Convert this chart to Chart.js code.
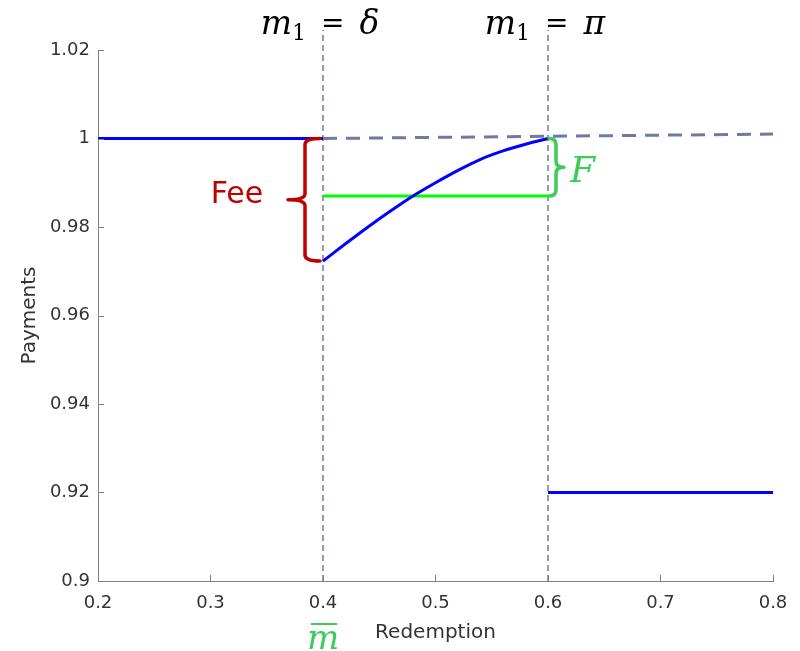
<!DOCTYPE html>
<html>
<head>
<meta charset="utf-8">
<script src="https://cdn.jsdelivr.net/npm/chart.js@4"></script>
<style>
  html, body { margin: 0; padding: 0; background: #fff; }
  #wrap { width: 800px; height: 651px; }
</style>
</head>
<body>
<div id="wrap"><canvas id="payChart" width="800" height="651"></canvas></div>
<script>
// Payment schedule
const flatX = [0.2, 0.4];
const flatY = [1.0, 1.0];
const feeX = [0.40, 0.42, 0.44, 0.46, 0.48, 0.50, 0.52, 0.54, 0.56, 0.58, 0.60];
const feeY = [0.9723, 0.9762, 0.9800, 0.9836, 0.9870, 0.9900, 0.9928, 0.9953, 0.9972, 0.9987, 1.0000];
const lowX = [0.6, 0.8];
const lowY = [0.92, 0.92];
const fundX = [0.4, 0.6];
const fundY = [0.987, 0.987];
const parX = [0.4, 0.8];
const parY = [1.0, 1.001];
const thresholds = [0.4, 0.6];
const thresholdLabels = ['δ', 'π'];
const vlineTop = 1.0245;
const xTicks = [0.2, 0.3, 0.4, 0.5, 0.6, 0.7, 0.8];
const yTicks = [0.9, 0.92, 0.94, 0.96, 0.98, 1, 1.02];

const pts = (xs, ys) => xs.map((x, i) => ({ x: x, y: ys[i] }));

const axisColor = '#808080';
const textColor = '#333333';
const dashColor = '#6f7aa0';
const feeRed = '#c00000';
const fGreen = '#3dcc5a';
const sans = '"DejaVu Sans"';

function line(data, color, width, dash, order) {
  return {
    data: data,
    showLine: true,
    borderColor: color,
    borderWidth: width,
    borderDash: dash || [],
    pointRadius: 0,
    fill: false,
    clip: false,
    order: order
  };
}

// inward ticks, braces and math labels
const decor = {
  id: 'decor',
  afterDatasetsDraw(chart) {
    const ctx = chart.ctx;
    const xs = chart.scales.x, ys = chart.scales.y;
    const area = chart.chartArea;

    ctx.save();
    ctx.strokeStyle = axisColor;
    ctx.lineWidth = 1;
    xTicks.forEach(v => {
      const p = Math.round(xs.getPixelForValue(v)) + 0.5;
      ctx.beginPath(); ctx.moveTo(p, area.bottom); ctx.lineTo(p, area.bottom - 6); ctx.stroke();
    });
    yTicks.forEach(v => {
      const p = Math.round(ys.getPixelForValue(v)) + 0.5;
      ctx.beginPath(); ctx.moveTo(area.left, p); ctx.lineTo(area.left + 6, p); ctx.stroke();
    });

    function brace(x0, xEnd, xTip, yTop, yBot, color) {
      const yMid = (yTop + yBot) / 2;
      const r = 6;
      ctx.beginPath();
      ctx.moveTo(xEnd, yTop);
      ctx.quadraticCurveTo(x0, yTop, x0, yTop + r);
      ctx.lineTo(x0, yMid - r);
      ctx.quadraticCurveTo(x0, yMid, xTip, yMid);
      ctx.quadraticCurveTo(x0, yMid, x0, yMid + r);
      ctx.lineTo(x0, yBot - r);
      ctx.quadraticCurveTo(x0, yBot, xEnd, yBot);
      ctx.strokeStyle = color;
      ctx.lineWidth = 3.5;
      ctx.lineJoin = 'round';
      ctx.lineCap = 'round';
      ctx.stroke();
      return yMid;
    }

    // Fee brace
    const xd = xs.getPixelForValue(thresholds[0]);
    const feeMid = brace(xd - 18, xd - 3, xd - 35, ys.getPixelForValue(flatY[1]), ys.getPixelForValue(feeY[0]), feeRed);
    ctx.fillStyle = feeRed;
    ctx.font = '30px ' + sans;
    ctx.textAlign = 'center';
    ctx.textBaseline = 'middle';
    ctx.fillText('Fee', xd - 86, feeMid - 5);

    // F brace
    const xp = xs.getPixelForValue(thresholds[1]);
    const fMid = brace(xp + 8, xp + 1, xp + 16, ys.getPixelForValue(feeY[feeY.length - 1]), ys.getPixelForValue(fundY[1]), fGreen);
    ctx.fillStyle = fGreen;
    ctx.font = 'italic 36px "DejaVu Serif"';
    ctx.textAlign = 'left';
    ctx.textBaseline = 'alphabetic';
    ctx.fillText('F', xp + 22, fMid + 15);

    // m_1 = delta, m_1 = pi
    const mFont = 'italic 33px "DejaVu Serif"';
    const subFont = '22px "DejaVu Serif"';
    const eqFont = '28px "DejaVu Serif"';
    const gap = 15;
    thresholds.forEach((t, i) => {
      const cx = xs.getPixelForValue(t);
      const by = 34;
      ctx.fillStyle = '#000';
      ctx.textBaseline = 'alphabetic';
      ctx.textAlign = 'left';
      ctx.font = mFont; const wm = ctx.measureText('m').width;
      ctx.font = subFont; const w1 = ctx.measureText('1').width;
      ctx.font = eqFont; const we = ctx.measureText('=').width;
      ctx.font = mFont; const wg = ctx.measureText(thresholdLabels[i]).width;
      let x = cx - 3 - (wm + w1 + we + wg + 2 * gap) / 2;
      ctx.font = mFont; ctx.fillText('m', x, by); x += wm;
      ctx.font = subFont; ctx.fillText('1', x, by + 6); x += w1 + gap;
      ctx.font = eqFont; ctx.fillText('=', x, by - 2); x += we + gap;
      ctx.font = mFont; ctx.fillText(thresholdLabels[i], x, by);
    });

    // m-bar under the first threshold
    ctx.fillStyle = fGreen;
    ctx.font = 'italic 34px "DejaVu Serif"';
    ctx.textAlign = 'center';
    ctx.textBaseline = 'alphabetic';
    ctx.fillText('m', xd, 649);
    const wbar = ctx.measureText('m').width;
    ctx.fillRect(xd - wbar / 2 + 4, 623, wbar - 6, 2);
    ctx.restore();
  }
};

new Chart(document.getElementById('payChart').getContext('2d'), {
  type: 'scatter',
  data: {
    datasets: [
      line(pts(flatX, flatY), '#0000ff', 3, null, 1),
      Object.assign(line(pts(feeX, feeY), '#0000ff', 3, null, 1), { tension: 0.3 }),
      line(pts(lowX, lowY), '#0000ff', 3, null, 1),
      line(pts(fundX, fundY), '#00ff00', 3, null, 2),
      line(pts(parX, parY), dashColor, 3, [14, 9], 3),
      line(pts([thresholds[0], thresholds[0]], [0.9, vlineTop]), dashColor, 1.5, [6, 4], 4),
      line(pts([thresholds[1], thresholds[1]], [0.9, vlineTop]), dashColor, 1.5, [6, 4], 4)
    ]
  },
  plugins: [decor],
  options: {
    responsive: false,
    animation: false,
    layout: { padding: { left: 0, right: 27, top: 50, bottom: 0 } },
    plugins: { legend: { display: false }, tooltip: { enabled: false } },
    scales: {
      x: {
        type: 'linear',
        min: 0.2,
        max: 0.8,
        afterBuildTicks: s => { s.ticks = xTicks.map(v => ({ value: v })); },
        afterFit: s => { s.height = 70; },
        grid: { display: false, drawTicks: false },
        border: { display: true, color: axisColor, width: 1 },
        ticks: {
          padding: 12,
          color: textColor,
          font: { family: sans, size: 18 },
          callback: v => String(v)
        },
        title: {
          display: true,
          text: 'Redemption',
          color: textColor,
          font: { family: sans, size: 20 },
          padding: { top: 0, bottom: 6 }
        }
      },
      y: {
        type: 'linear',
        min: 0.9,
        max: 1.02,
        afterBuildTicks: s => { s.ticks = yTicks.map(v => ({ value: v })); },
        afterFit: s => { s.width = 98; },
        grid: { display: false, drawTicks: false },
        border: { display: true, color: axisColor, width: 1 },
        ticks: {
          padding: 8,
          color: textColor,
          font: { family: sans, size: 18 },
          callback: v => String(v)
        },
        title: {
          display: true,
          text: 'Payments',
          color: textColor,
          font: { family: sans, size: 20 },
          padding: { top: 18, bottom: 0 }
        }
      }
    }
  }
});
</script>
</body>
</html>
